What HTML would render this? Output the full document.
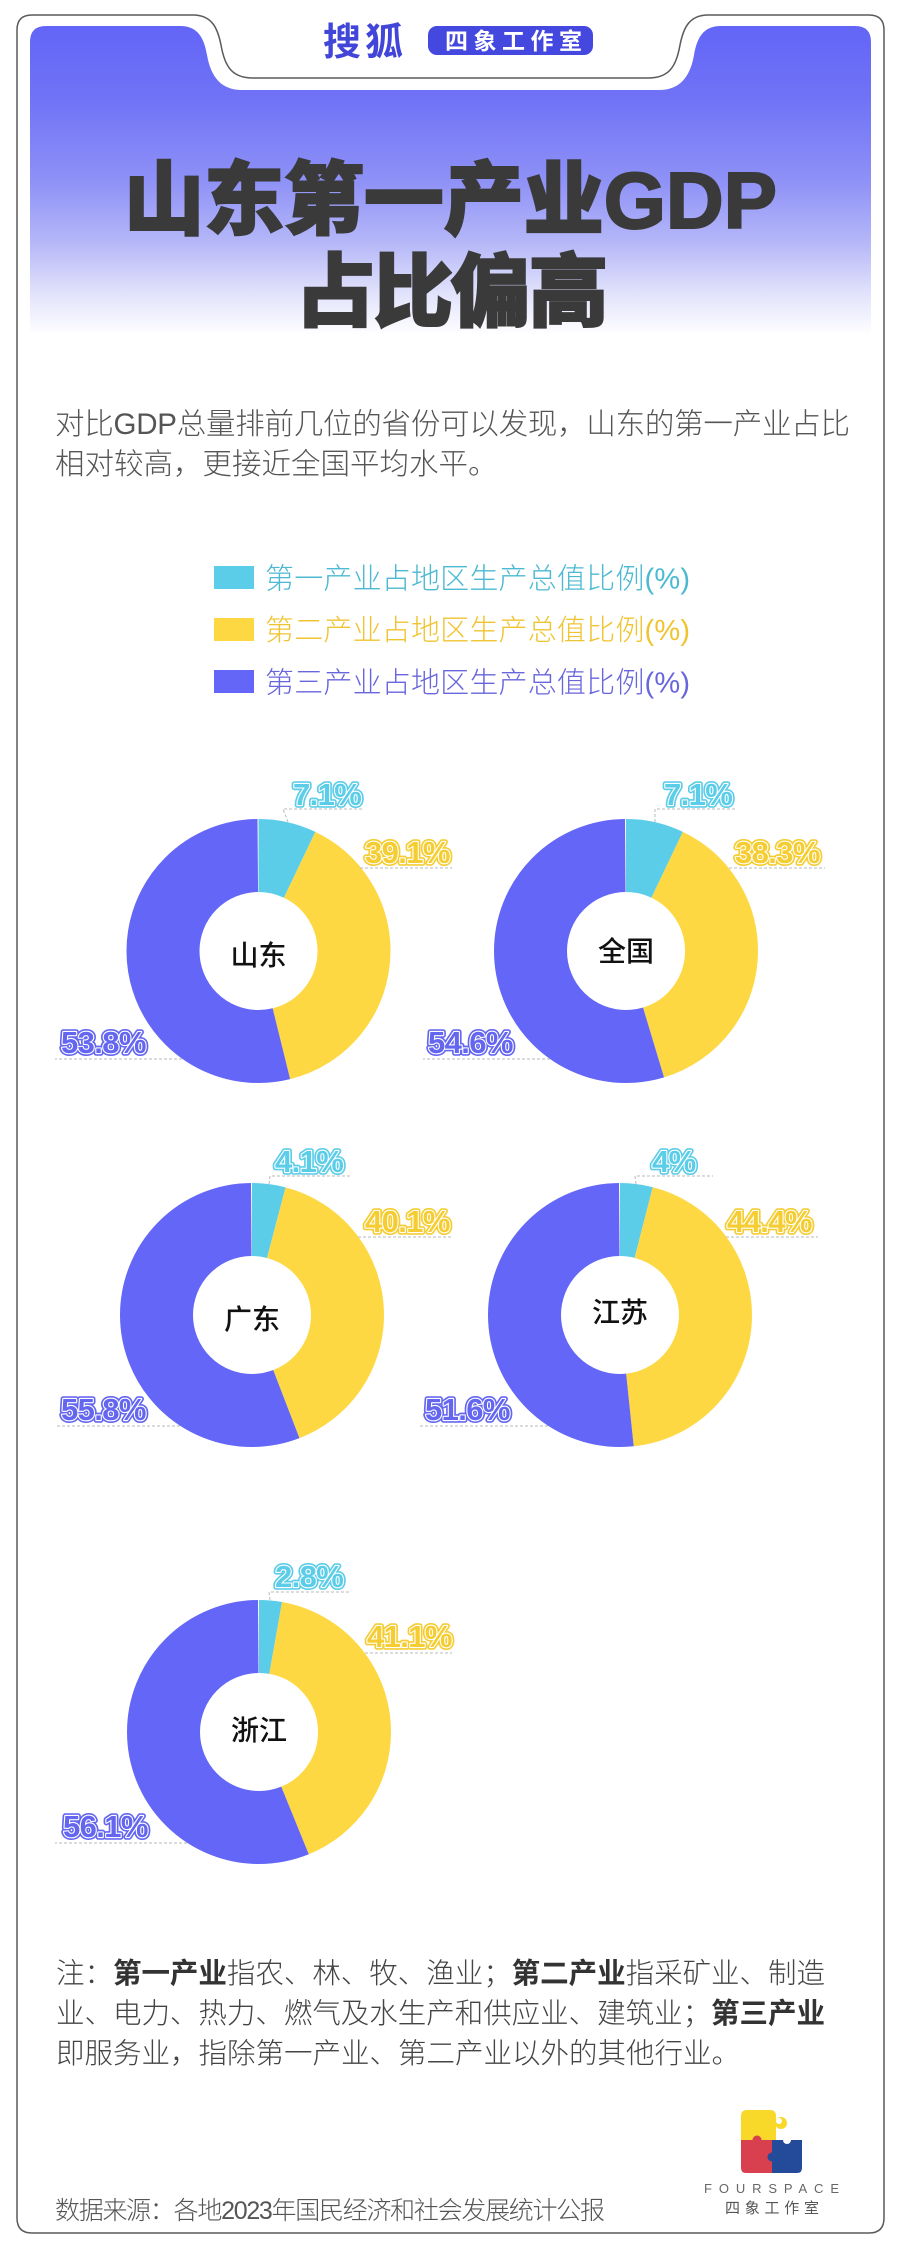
<!DOCTYPE html>
<html>
<head>
<meta charset="utf-8">
<style>
html,body{margin:0;padding:0;background:#fff;width:900px;height:2254px;overflow:hidden}
svg{display:block}
.ff{font-family:"Liberation Sans","Noto Sans CJK SC",sans-serif}
.lbo{font-family:"Liberation Sans","Noto Sans CJK SC",sans-serif;font-weight:700;font-size:31px;letter-spacing:-0.6px;stroke-width:5.5;stroke-linejoin:round}
.lbi{font-family:"Liberation Sans","Noto Sans CJK SC",sans-serif;font-weight:700;font-size:31px;letter-spacing:-0.6px;stroke:#fff;stroke-width:2.2;paint-order:stroke;stroke-linejoin:round}
.ctr{font-family:"Liberation Sans","Noto Sans CJK SC",sans-serif;font-weight:500;font-size:28px;fill:#111}
.ld{fill:none;stroke:#b9b9b9;stroke-width:1;stroke-dasharray:3 2}
</style>
</head>
<body>
<svg width="900" height="2254" viewBox="0 0 900 2254" xmlns="http://www.w3.org/2000/svg">
<defs>
<linearGradient id="hg" x1="0" y1="26" x2="0" y2="335" gradientUnits="userSpaceOnUse">
<stop offset="0" stop-color="#6265f6"/>
<stop offset="0.25" stop-color="#7174f6"/>
<stop offset="0.5" stop-color="#8e91f6"/>
<stop offset="0.7" stop-color="#b5b7f8"/>
<stop offset="0.86" stop-color="#e0e1fb"/>
<stop offset="1" stop-color="#ffffff"/>
</linearGradient>
</defs>

<!-- outer frame -->
<path d="M17,2218 L17,30 Q17,15 32,15 L193,15 C213,15 218,30 221,45 C225,68 233,78 253,78 L648,78 C668,78 676,68 680,45 C683,30 688,15 708,15 L869,15 Q884,15 884,30 L884,2218 Q884,2233 869,2233 L32,2233 Q17,2233 17,2218 Z" fill="#fff" stroke="#5a5a5a" stroke-width="1.5"/>

<!-- gradient header panel -->
<path d="M30,42 Q30,26 46,26 L180,26 C198,26 204,38 207,55 C211,78 222,90 242,90 L659,90 C679,90 690,78 694,55 C697,38 703,26 721,26 L855,26 Q871,26 871,42 L871,345 L30,345 Z" fill="url(#hg)"/>

<!-- logo -->
<text x="323" y="55" class="ff" font-size="38" font-weight="700" fill="#4246d8" textLength="80">搜狐</text>
<rect x="428" y="26" width="165" height="29" rx="9" fill="#4448df"/>
<text x="445" y="49" class="ff" font-size="23" font-weight="700" fill="#fff" textLength="137">四象工作室</text>

<!-- title -->
<text x="450.5" y="228" text-anchor="middle" class="ff" font-size="80" font-weight="900" fill="#3a3a3a" stroke="#3a3a3a" stroke-width="2" textLength="653">山东第一产业GDP</text>
<text x="452" y="320" text-anchor="middle" class="ff" font-size="80" font-weight="900" fill="#3a3a3a" stroke="#3a3a3a" stroke-width="2" textLength="313">占比偏高</text>

<!-- body -->
<text x="55" y="434" class="ff" font-size="29.5" font-weight="300" fill="#555" textLength="795">对比GDP总量排前几位的省份可以发现，山东的第一产业占比</text>
<text x="55" y="474" class="ff" font-size="29.5" font-weight="300" fill="#555">相对较高，更接近全国平均水平。</text>

<!-- legend -->
<rect x="214" y="566" width="40" height="23" fill="#5ccde9"/>
<text x="265" y="588.5" class="ff" font-size="29" font-weight="300" fill="#4bb9d1" textLength="425">第一产业占地区生产总值比例(%)</text>
<rect x="214" y="618" width="40" height="23" fill="#fdd843"/>
<text x="265" y="640" class="ff" font-size="29" font-weight="300" fill="#f0c431" textLength="425">第二产业占地区生产总值比例(%)</text>
<rect x="214" y="670" width="40" height="23" fill="#6466f7"/>
<text x="265" y="692.5" class="ff" font-size="29" font-weight="300" fill="#6866dc" textLength="425">第三产业占地区生产总值比例(%)</text>

<!-- ===== 山东 ===== -->
<g transform="rotate(-90 258.5 951)" fill="none" stroke-width="73">
<circle cx="258.5" cy="951" r="95.5" pathLength="100" stroke="#5ccde9" stroke-dasharray="7.1 100" stroke-dashoffset="0"/>
<circle cx="258.5" cy="951" r="95.5" pathLength="100" stroke="#fdd843" stroke-dasharray="39.1 100" stroke-dashoffset="-7.1"/>
<circle cx="258.5" cy="951" r="95.5" pathLength="100" stroke="#6466f7" stroke-dasharray="53.8 100" stroke-dashoffset="-46.2"/>
</g>
<text x="258.5" y="965" text-anchor="middle" class="ctr">山东</text>
<path class="ld" d="M288,822 L283,809 L363,809"/>
<path class="ld" d="M360,868 L452,868"/>
<path class="ld" d="M182,1059 L55,1059"/>
<text x="293" y="805" class="lbo" fill="#5ccde9" stroke="#5ccde9">7.1%</text>
<text x="293" y="805" class="lbi" fill="#5ccde9">7.1%</text>
<text x="365" y="863" class="lbo" fill="#f5cd32" stroke="#f5cd32">39.1%</text>
<text x="365" y="863" class="lbi" fill="#f5cd32">39.1%</text>
<text x="61" y="1053" class="lbo" fill="#6466f0" stroke="#6466f0">53.8%</text>
<text x="61" y="1053" class="lbi" fill="#6466f0">53.8%</text>

<!-- ===== 全国 ===== -->
<g transform="rotate(-90 626 951)" fill="none" stroke-width="73">
<circle cx="626" cy="951" r="95.5" pathLength="100" stroke="#5ccde9" stroke-dasharray="7.1 100" stroke-dashoffset="0"/>
<circle cx="626" cy="951" r="95.5" pathLength="100" stroke="#fdd843" stroke-dasharray="38.3 100" stroke-dashoffset="-7.1"/>
<circle cx="626" cy="951" r="95.5" pathLength="100" stroke="#6466f7" stroke-dasharray="54.6 100" stroke-dashoffset="-45.4"/>
</g>
<text x="626" y="961" text-anchor="middle" class="ctr" font-weight="700">全国</text>
<path class="ld" d="M655,822 L655,809 L735,809"/>
<path class="ld" d="M729,868 L825,868"/>
<path class="ld" d="M550,1059 L423,1059"/>
<text x="664" y="805" class="lbo" fill="#5ccde9" stroke="#5ccde9">7.1%</text>
<text x="664" y="805" class="lbi" fill="#5ccde9">7.1%</text>
<text x="735" y="863" class="lbo" fill="#f5cd32" stroke="#f5cd32">38.3%</text>
<text x="735" y="863" class="lbi" fill="#f5cd32">38.3%</text>
<text x="428" y="1053" class="lbo" fill="#6466f0" stroke="#6466f0">54.6%</text>
<text x="428" y="1053" class="lbi" fill="#6466f0">54.6%</text>

<!-- ===== 广东 ===== -->
<g transform="rotate(-90 252 1315)" fill="none" stroke-width="73">
<circle cx="252" cy="1315" r="95.5" pathLength="100" stroke="#5ccde9" stroke-dasharray="4.1 100" stroke-dashoffset="0"/>
<circle cx="252" cy="1315" r="95.5" pathLength="100" stroke="#fdd843" stroke-dasharray="40.1 100" stroke-dashoffset="-4.1"/>
<circle cx="252" cy="1315" r="95.5" pathLength="100" stroke="#6466f7" stroke-dasharray="55.8 100" stroke-dashoffset="-44.2"/>
</g>
<text x="252" y="1329" text-anchor="middle" class="ctr">广东</text>
<path class="ld" d="M269,1184 L270,1176 L350,1176"/>
<path class="ld" d="M358,1237 L452,1237"/>
<path class="ld" d="M180,1426 L55,1426"/>
<text x="275" y="1172" class="lbo" fill="#5ccde9" stroke="#5ccde9">4.1%</text>
<text x="275" y="1172" class="lbi" fill="#5ccde9">4.1%</text>
<text x="365" y="1232" class="lbo" fill="#f5cd32" stroke="#f5cd32">40.1%</text>
<text x="365" y="1232" class="lbi" fill="#f5cd32">40.1%</text>
<text x="61" y="1420" class="lbo" fill="#6466f0" stroke="#6466f0">55.8%</text>
<text x="61" y="1420" class="lbi" fill="#6466f0">55.8%</text>

<!-- ===== 江苏 ===== -->
<g transform="rotate(-90 620 1315)" fill="none" stroke-width="73">
<circle cx="620" cy="1315" r="95.5" pathLength="100" stroke="#5ccde9" stroke-dasharray="4 100" stroke-dashoffset="0"/>
<circle cx="620" cy="1315" r="95.5" pathLength="100" stroke="#fdd843" stroke-dasharray="44.4 100" stroke-dashoffset="-4"/>
<circle cx="620" cy="1315" r="95.5" pathLength="100" stroke="#6466f7" stroke-dasharray="51.6 100" stroke-dashoffset="-48.4"/>
</g>
<text x="620" y="1322" text-anchor="middle" class="ctr" font-weight="700">江苏</text>
<path class="ld" d="M636,1184 L635,1176 L713,1176"/>
<path class="ld" d="M726,1237 L818,1237"/>
<path class="ld" d="M548,1426 L418,1426"/>
<text x="652" y="1172" class="lbo" fill="#5ccde9" stroke="#5ccde9">4%</text>
<text x="652" y="1172" class="lbi" fill="#5ccde9">4%</text>
<text x="727" y="1232" class="lbo" fill="#f5cd32" stroke="#f5cd32">44.4%</text>
<text x="727" y="1232" class="lbi" fill="#f5cd32">44.4%</text>
<text x="425" y="1420" class="lbo" fill="#6466f0" stroke="#6466f0">51.6%</text>
<text x="425" y="1420" class="lbi" fill="#6466f0">51.6%</text>

<!-- ===== 浙江 ===== -->
<g transform="rotate(-90 259 1732)" fill="none" stroke-width="73">
<circle cx="259" cy="1732" r="95.5" pathLength="100" stroke="#5ccde9" stroke-dasharray="2.8 100" stroke-dashoffset="0"/>
<circle cx="259" cy="1732" r="95.5" pathLength="100" stroke="#fdd843" stroke-dasharray="41.1 100" stroke-dashoffset="-2.8"/>
<circle cx="259" cy="1732" r="95.5" pathLength="100" stroke="#6466f7" stroke-dasharray="56.1 100" stroke-dashoffset="-43.9"/>
</g>
<text x="259" y="1740" text-anchor="middle" class="ctr" font-weight="700">浙江</text>
<path class="ld" d="M270,1600 L269,1592 L350,1592"/>
<path class="ld" d="M365,1653 L452,1653"/>
<path class="ld" d="M187,1843 L55,1843"/>
<text x="275" y="1587" class="lbo" fill="#5ccde9" stroke="#5ccde9">2.8%</text>
<text x="275" y="1587" class="lbi" fill="#5ccde9">2.8%</text>
<text x="367" y="1647" class="lbo" fill="#f5cd32" stroke="#f5cd32">41.1%</text>
<text x="367" y="1647" class="lbi" fill="#f5cd32">41.1%</text>
<text x="63" y="1837" class="lbo" fill="#6466f0" stroke="#6466f0">56.1%</text>
<text x="63" y="1837" class="lbi" fill="#6466f0">56.1%</text>

<!-- note -->
<text x="56" y="1983" class="ff" font-size="28.5" font-weight="300" fill="#444" textLength="769">注：<tspan font-weight="700" fill="#333">第一产业</tspan>指农、林、牧、渔业；<tspan font-weight="700" fill="#333">第二产业</tspan>指采矿业、制造</text>
<text x="56" y="2023" class="ff" font-size="28.5" font-weight="300" fill="#444" textLength="769">业、电力、热力、燃气及水生产和供应业、建筑业；<tspan font-weight="700" fill="#333">第三产业</tspan></text>
<text x="56" y="2063" class="ff" font-size="28.5" font-weight="300" fill="#444">即服务业，指除第一产业、第二产业以外的其他行业。</text>

<!-- source -->
<text x="55" y="2219" class="ff" font-size="25" font-weight="300" fill="#555" textLength="550">数据来源：各地2023年国民经济和社会发展统计公报</text>

<!-- footer logo -->
<path d="M741,2141 L741,2116 Q741,2110 747,2110 L770,2110 Q776,2110 776,2116 L776,2141 Z" fill="#f8d92a"/>
<circle cx="781" cy="2123" r="6" fill="#f8d92a"/>
<circle cx="779" cy="2121" r="3" fill="#fff"/>
<path d="M741,2140 L773,2140 L773,2173 L746,2173 Q741,2173 741,2168 Z" fill="#d8404f"/>
<circle cx="757" cy="2140" r="4.5" fill="#d8404f"/>
<path d="M772,2140 L802,2140 L802,2168 Q802,2173 797,2173 L772,2173 Z" fill="#244a9a"/>
<circle cx="787" cy="2140" r="4" fill="#fff"/>
<circle cx="772" cy="2157" r="4.5" fill="#244a9a"/>
<text x="704" y="2193" class="ff" font-size="13" fill="#666" textLength="135">FOURSPACE</text>
<text x="725" y="2213" class="ff" font-size="15" fill="#555" textLength="94">四象工作室</text>
</svg>
</body>
</html>
